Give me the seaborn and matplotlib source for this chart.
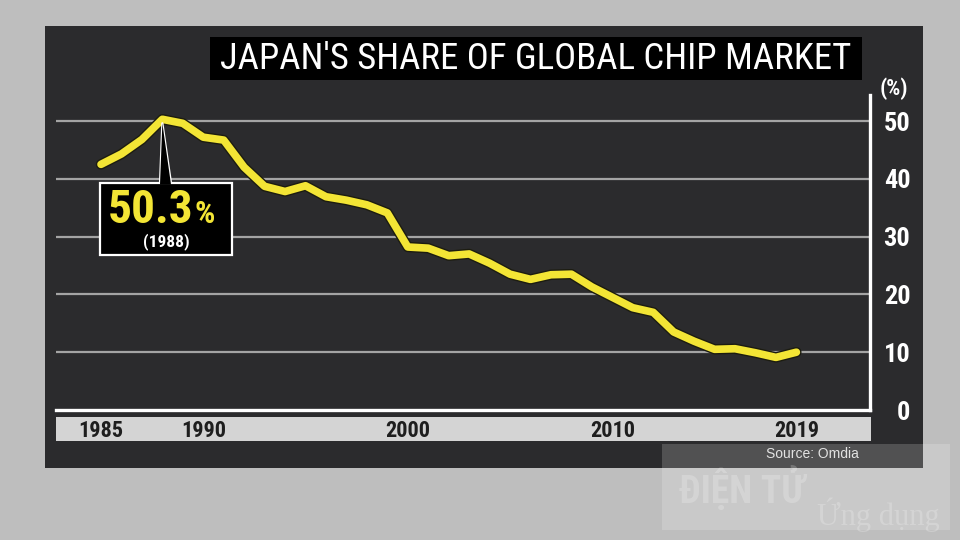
import matplotlib
matplotlib.use("Agg")
import matplotlib.pyplot as plt
import matplotlib.patheffects as pe
from matplotlib.patches import Rectangle, Polygon
from matplotlib.lines import Line2D
import pandas as pd
import seaborn as sns

# Data (share of global chip market, %)
years = list(range(1985, 2020))
share = [42.5, 44.3, 46.8, 50.3, 49.6, 47.2, 46.7, 42.0, 38.7, 37.8,
         38.8, 36.9, 36.3, 35.5, 34.1, 28.2, 28.0, 26.7, 27.0, 25.4,
         23.5, 22.6, 23.4, 23.5, 21.3, 19.5, 17.7, 16.9, 13.5, 11.9,
         10.5, 10.6, 9.9, 9.1, 10.0]
year_ticks = [1985, 1990, 2000, 2010, 2019]
share_ticks = [0, 10, 20, 30, 40, 50]
peak_year = 1988
peak_value = 50.3

df = pd.DataFrame({"year": years, "share": share})

sns.set_theme(style="dark")
cond = ['Roboto Condensed', 'Archivo Narrow', 'Barlow Semi Condensed', 'DejaVu Sans']
plt.rcParams['font.family'] = cond

W, H = 960, 540
fig = plt.figure(figsize=(9.6, 5.4), dpi=100, facecolor="#bebebe")


def px(x, y):
    # pixel (top-left origin) -> figure fraction
    return x / W, 1 - y / H


def rect(x0, y0, x1, y1, z, **kw):
    r = Rectangle(px(x0, y1), (x1 - x0) / W, (y1 - y0) / H,
                  transform=fig.transFigure, zorder=z, **kw)
    fig.patches.append(r)
    return r


# dark panel, year strip, watermark area, title box
rect(45, 26, 923, 468, 0.1, facecolor="#2b2b2d", edgecolor="none")
rect(56, 417, 871, 441, 0.2, facecolor="#d4d4d4", edgecolor="none")
rect(662, 444, 950, 530, 0.3, facecolor="white", alpha=0.18, edgecolor="none")
rect(210, 37, 862, 80, 0.4, facecolor="black", edgecolor="none")
fig.text(*px(536, 59), "JAPAN'S SHARE OF GLOBAL CHIP MARKET", color="white",
         fontsize=26.5, ha="center", va="center", zorder=3)

# watermark
fig.text(*px(742, 489), "ĐIỆN TỬ", color="white", alpha=0.22, fontsize=27,
         fontweight="bold", ha="center", va="center", zorder=0.35)
fig.text(*px(878, 515), "Ứng dụng", color="white", alpha=0.22, fontsize=22,
         family=["Liberation Serif", "DejaVu Serif"], ha="center", va="center", zorder=0.35)

ax = fig.add_axes([56 / W, 1 - 410 / H, (870 - 56) / W, (410 - 95) / H], zorder=1)
ax.set_facecolor("none")

sns.lineplot(data=df, x="year", y="share", ax=ax, color="#f3e535", linewidth=5.5,
             solid_capstyle="round", solid_joinstyle="round", zorder=5,
             path_effects=[pe.Stroke(linewidth=7.5, foreground="#1c1c10"), pe.Normal()])

ax.set_xlim(1982.8, 2022.6)
ax.set_ylim(0, 54.5)
ax.set_xlabel("")
ax.set_ylabel("")

# grid
ax.grid(False)
for v in share_ticks[1:]:
    ax.axhline(v, color="#a4a4a4", linewidth=1.6, zorder=2)

for s in ["left", "top"]:
    ax.spines[s].set_visible(False)
for s in ["right", "bottom"]:
    ax.spines[s].set_visible(True)
    ax.spines[s].set_color("white")
    ax.spines[s].set_linewidth(2.4)

ax.set_xticks(year_ticks)
ax.set_xticklabels([str(y) for y in year_ticks], fontsize=16, fontweight="bold", color="#1e1e1e")
ax.tick_params(axis="x", direction="in", length=4, width=2, color="white", pad=7)

ax.yaxis.tick_right()
ax.set_yticks(share_ticks)
ax.set_yticklabels([str(v) for v in share_ticks], fontsize=19, fontweight="bold", color="white")
for lab in ax.get_yticklabels():
    lab.set_horizontalalignment("right")
ax.tick_params(axis="y", length=0, pad=29)

fig.text(*px(894, 89), "(%)", color="white", fontsize=16, fontweight="bold",
         ha="center", va="center", zorder=3)

# callout for the peak
fig.canvas.draw()
tip = fig.transFigure.inverted().transform(ax.transData.transform((peak_year, peak_value)))
rect(100, 183, 232, 255, 6, facecolor="black", edgecolor="white", linewidth=1.6)
box_top = 1 - 183 / H
tl = (160 / W, box_top - 1.5 / H)
tr = (171 / W, box_top - 1.5 / H)
tip2 = (tip[0], tip[1] - 4 / H)
fig.patches.append(Polygon([tl, tr, tip2], closed=True, transform=fig.transFigure,
                           facecolor="black", edgecolor="none", zorder=7))
fig.lines.append(Line2D([tl[0], tip2[0], tr[0]], [box_top, tip2[1], box_top],
                        transform=fig.transFigure, color="white", linewidth=1.6, zorder=7))
fig.text(*px(193, 210), "50.3", color="#f3e535", fontsize=34, fontweight="bold",
         ha="right", va="center", zorder=8)
fig.text(*px(194, 214), "%", color="#f3e535", fontsize=23, fontweight="bold",
         ha="left", va="center", zorder=8)
fig.text(*px(166, 242), "(1988)", color="white", fontsize=12.5, fontweight="bold",
         ha="center", va="center", zorder=8)

fig.text(*px(812, 454), "Source: Omdia", color="#e2e2e2", fontsize=10,
         family=["Liberation Sans", "DejaVu Sans"], ha="center", va="center", zorder=8)

fig.savefig("out.png", dpi=100, facecolor=fig.get_facecolor())
